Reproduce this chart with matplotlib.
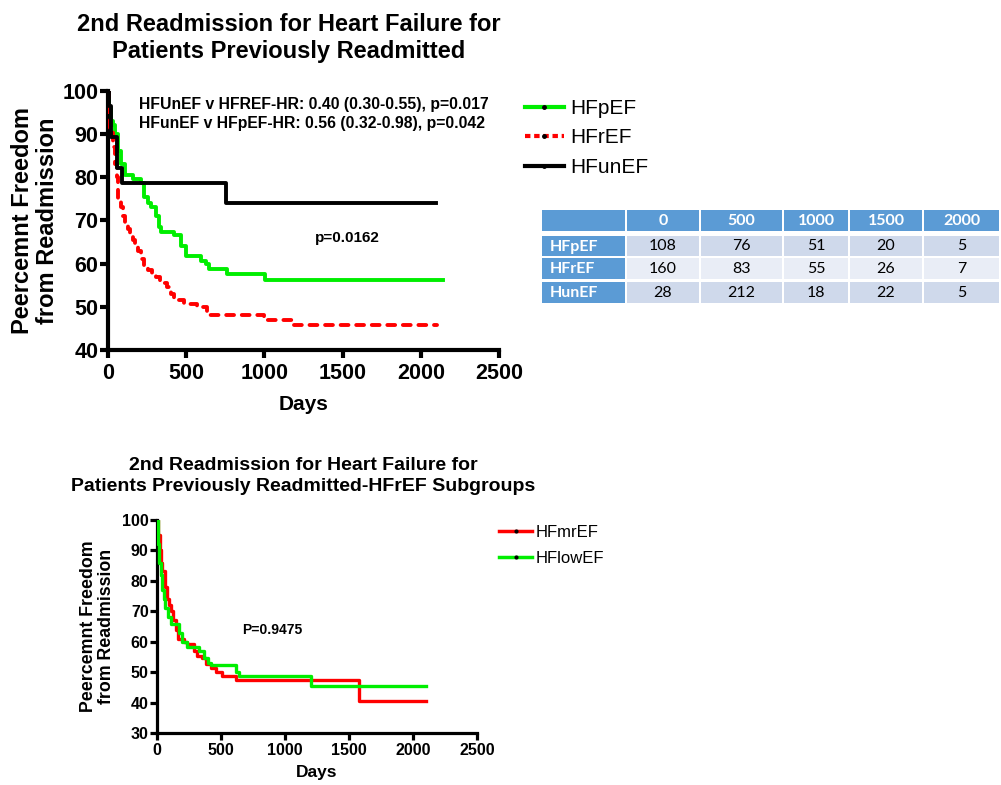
import matplotlib
matplotlib.use("Agg")
import matplotlib.pyplot as plt
from matplotlib.lines import Line2D
from matplotlib.patches import Rectangle

plt.rcParams['font.family'] = ['Liberation Sans', 'DejaVu Sans']

# top chart: Kaplan-Meier steps (days, percent free)
hfpef_t = [0, 8, 20, 32, 42, 64, 85, 106, 160, 212, 233, 255, 275, 307, 328, 339,
           424, 466, 498, 593, 625, 646, 763, 1006, 2145]
hfpef_s = [100, 96, 93, 92, 90, 86, 83, 80.6, 79.6, 78.7, 75.5, 74, 73, 71, 68.5, 67.4,
           66.5, 64.0, 61.8, 60.7, 59.8, 58.7, 57.6, 56.3, 56.3]

hfref_t = [0, 5, 15, 30, 45, 55, 64, 80, 95, 110, 127, 143, 159, 175, 191, 212, 233,
           254, 280, 307, 335, 360, 380, 403, 425, 445, 487, 572, 636, 996, 1186, 2102]
hfref_s = [100, 95, 91, 87, 83, 80, 75, 73, 71, 69.5, 68, 66.5, 65.5, 64, 63, 61, 59.5,
           58.5, 57.5, 57, 56, 55.5, 54.5, 53, 52, 51.5, 50.7, 50, 48, 47, 45.8, 45.8]

hfunef_t = [0, 8, 22, 55, 88, 755, 2100]
hfunef_s = [100, 96.4, 89.3, 82.1, 78.6, 74.1, 74.1]

# bottom chart: HFrEF subgroups
hfmref_t = [0, 10, 20, 30, 40, 65, 80, 95, 110, 125, 145, 165, 210, 235, 290, 310, 355,
            380, 420, 460, 510, 620, 1575, 2100]
hfmref_s = [100, 95, 90, 86, 83.3, 78, 74, 72, 70, 67, 64, 60.8, 60, 59.2, 57, 55.4, 54.8,
            52.6, 51.5, 50.2, 48.8, 47.5, 40.6, 40.6]

hflow_t = [0, 8, 18, 28, 38, 55, 65, 85, 110, 175, 195, 235, 330, 370, 400, 420, 615,
           640, 1205, 2100]
hflow_s = [100, 92, 86, 82, 77, 74, 71, 68, 65.8, 62.8, 60.0, 58.4, 56.8, 54.5, 53.0,
           52.2, 50.2, 48.8, 45.5, 45.5]

# numbers at risk table
risk_cols = ['0', '500', '1000', '1500', '2000']
risk_rows = ['HFpEF', 'HFrEF', 'HunEF']
risk_vals = [[108, 76, 51, 20, 5],
             [160, 83, 55, 26, 7],
             [28, 212, 18, 22, 5]]

GREEN = '#00ee00'
RED = '#ff0000'
W, H = 1001, 785


def px_rect(l, t, r, b):
    return [l / W, 1 - b / H, (r - l) / W, (b - t) / H]


def style_axes(ax, lw, ticklen, fs, pad):
    for s in ['top', 'right']:
        ax.spines[s].set_visible(False)
    for s in ['left', 'bottom']:
        ax.spines[s].set_linewidth(lw)
    ax.tick_params(direction='out', width=lw, length=ticklen, labelsize=fs)
    ax.tick_params(axis='x', pad=pad)
    ax.tick_params(axis='y', pad=1)
    for lab in ax.get_xticklabels() + ax.get_yticklabels():
        lab.set_fontweight('bold')


fig = plt.figure(figsize=(W / 100, H / 100), dpi=100)

# ---- top chart
ax1 = fig.add_axes(px_rect(108, 90.7, 499, 350))
ax1.step(hfpef_t, hfpef_s, where='post', color=GREEN, lw=2.8, zorder=3)
ax1.step(hfref_t, hfref_s, where='post', color=RED, lw=2.8, linestyle=(0, (2, 2)),
         dash_capstyle='round', zorder=3)
ax1.step(hfunef_t, hfunef_s, where='post', color='black', lw=2.8, zorder=4)
ax1.set_xlim(0, 2500)
ax1.set_ylim(40, 100)
ax1.set_xticks([0, 500, 1000, 1500, 2000, 2500])
ax1.set_yticks([40, 50, 60, 70, 80, 90, 100])
style_axes(ax1, 3, 6, 15.5, 3.5)
ax1.set_xlabel('Days', fontsize=15, fontweight='bold', labelpad=8)
ax1.set_ylabel('Peercemnt Freedom\nfrom Readmission', fontsize=17, fontweight='bold',
               linespacing=1.1)
ax1.yaxis.set_label_coords(-0.125, 0.5)
ax1.text(0.08, 0.91, 'HFUnEF v HFREF-HR: 0.40 (0.30-0.55), p=0.017\n'
         'HFunEF v HFpEF-HR: 0.56 (0.32-0.98), p=0.042',
         transform=ax1.transAxes, fontsize=11.3, fontweight='bold', va='center',
         linespacing=1.3)
ax1.text(1528, 65.9, 'p=0.0162', fontsize=11, fontweight='bold', ha='center', va='center')

handles1 = [Line2D([], [], color=GREEN, lw=3, marker='o', ms=2.5, mfc='black', mec='black'),
            Line2D([], [], color=RED, lw=3, linestyle=(0, (1.3, 0.9)), marker='o', ms=2.5,
                   mfc='black', mec='black'),
            Line2D([], [], color='black', lw=3, marker='o', ms=2.5, mfc='black', mec='black')]
ax1.legend(handles1, ['HFpEF', 'HFrEF', 'HFunEF'], loc='upper left',
           bbox_to_anchor=(525 / W, 1 - 99 / H), bbox_transform=fig.transFigure,
           frameon=False, fontsize=15, handlelength=1.85, handletextpad=0.3,
           labelspacing=0.5, borderpad=0, borderaxespad=0, numpoints=1)

# ---- bottom chart
ax2 = fig.add_axes(px_rect(157, 520, 477, 733))
ax2.step(hfmref_t, hfmref_s, where='post', color=RED, lw=2.4, zorder=3)
ax2.step(hflow_t, hflow_s, where='post', color=GREEN, lw=2.4, zorder=4)
ax2.set_xlim(0, 2500)
ax2.set_ylim(30, 100)
ax2.set_xticks([0, 500, 1000, 1500, 2000, 2500])
ax2.set_yticks([30, 40, 50, 60, 70, 80, 90, 100])
style_axes(ax2, 2.3, 5, 11.5, 2.5)
ax2.set_xlabel('Days', fontsize=12.5, fontweight='bold', labelpad=5)
ax2.set_ylabel('Peercemnt Freedom\nfrom Readmission', fontsize=12.8, fontweight='bold',
               linespacing=1.1)
ax2.yaxis.set_label_coords(-0.13, 0.5)
ax2.text(898, 64.0, 'P=0.9475', fontsize=10, fontweight='bold', ha='center', va='center')

handles2 = [Line2D([], [], color=RED, lw=2.5, marker='o', ms=2, mfc='black', mec='black'),
            Line2D([], [], color=GREEN, lw=2.5, marker='o', ms=2, mfc='black', mec='black')]
ax2.legend(handles2, ['HFmrEF', 'HFlowEF'], loc='upper left',
           bbox_to_anchor=(499 / W, 1 - 525 / H), bbox_transform=fig.transFigure,
           frameon=False, fontsize=12, handlelength=2.0, handletextpad=0.2,
           labelspacing=0.68, borderpad=0, borderaxespad=0, numpoints=1)

# ---- titles
fig.text(289 / W, 1 - 38 / H, '2nd Readmission for Heart Failure for\n'
         'Patients Previously Readmitted', ha='center', va='center', fontsize=17,
         fontweight='bold', linespacing=1.25)
fig.text(303 / W, 1 - 476 / H, '2nd Readmission for Heart Failure for\n'
         'Patients Previously Readmitted-HFrEF Subgroups', ha='center', va='center',
         fontsize=14, fontweight='bold', linespacing=1.35)

# ---- numbers at risk table
ov = fig.add_axes([0, 0, 1, 1], zorder=-1)
ov.set_xlim(0, W)
ov.set_ylim(H, 0)
ov.axis('off')
col_edges = [(542, 625), (627, 699), (701, 782), (784, 848), (850, 922), (924, 999)]
row_edges = [(210, 231), (236, 256), (258, 279), (282, 303)]
HEAD = '#5b9bd5'
fills = ['#cfd9eb', '#e9edf6', '#cfd9eb']
tfont = ['Lato', 'DejaVu Sans']
for ci, (l, r) in enumerate(col_edges):
    t, b = row_edges[0]
    ov.add_patch(Rectangle((l, t), r - l, b - t, color=HEAD, lw=0))
    if ci > 0:
        ov.text((l + r) / 2, (t + b) / 2 + 0.5, risk_cols[ci - 1], ha='center', va='center',
                color='white', fontweight='bold', fontsize=11.5, family=tfont)
for ri, (t, b) in enumerate(row_edges[1:]):
    l, r = col_edges[0]
    ov.add_patch(Rectangle((l, t), r - l, b - t, color=HEAD, lw=0))
    ov.text(l + 8, (t + b) / 2 + 0.5, risk_rows[ri], ha='left', va='center', color='white',
            fontweight='bold', fontsize=11.5, family=tfont)
    for ci, (l, r) in enumerate(col_edges[1:]):
        ov.add_patch(Rectangle((l, t), r - l, b - t, color=fills[ri], lw=0))
        ov.text((l + r) / 2, (t + b) / 2 + 0.5, str(risk_vals[ri][ci]), ha='center',
                va='center', color='black', fontsize=11.5, family=tfont)

fig.savefig('out.png', dpi=100)
